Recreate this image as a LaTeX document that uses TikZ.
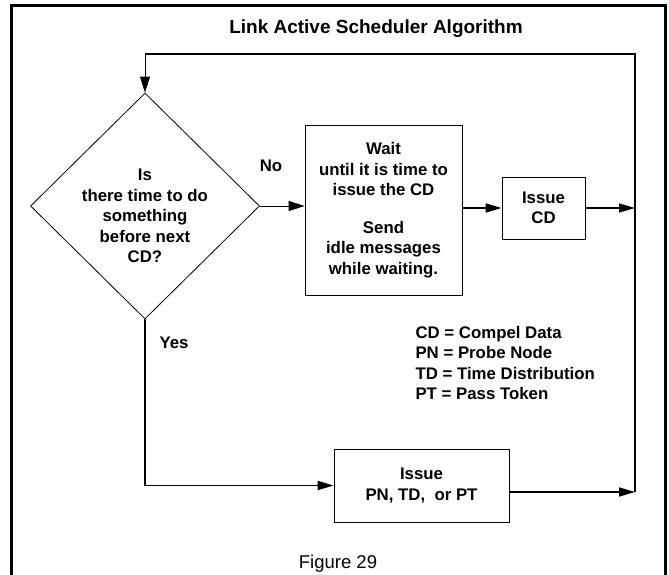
\documentclass[tikz,border=0pt]{standalone}
\usepackage{fontspec}
\setmainfont{Liberation Sans}
\usetikzlibrary{arrows.meta,shapes.geometric,calc}
\tikzset{
  txt/.style={font=\fontsize{16.8}{20.5}\selectfont\bfseries, align=center},
  block/.style={txt, draw, line width=0.8pt, inner sep=0pt},
  decide/.style={txt, draw, diamond, line width=0.8pt, inner sep=0pt},
  conn/.style={line width=1.6pt, -{Triangle[length=16pt,width=9pt]}},
  thinconn/.style={line width=1pt, -{Triangle[length=16pt,width=10pt]}}
}

\begin{document}
\begin{tikzpicture}[x=1pt,y=-1pt]
			%%%%% START %%%%%
			\useasboundingbox (0, 0) rectangle (669, 575);
			
			\draw[line width=3pt] (11.5, 5.5) rectangle (665, 600);
			
			\node[font=\fontsize{19}{22}\selectfont\bfseries] (title) at (376, 29) {Link Active Scheduler Algorithm};
			
			\node[decide, minimum width=229, minimum height=226] (q) at (145, 206) {};
			\node[txt] (qtext) at (145, 216) {Is\\there time to do\\something\\before next\\CD?};
			
			\node[block, minimum width=157, minimum height=170] (wait) at (383.5, 210)
				{Wait\\until it is time to\\issue the CD\\[17pt]Send\\idle messages\\while waiting.};
			\node[block, minimum width=83, minimum height=62] (cd) at (543.5, 208) {Issue\\CD};
			\node[block, minimum width=175, minimum height=73] (pn) at (421.5, 485.5) {Issue\\PN, TD,~ or PT};
			
			\node[txt] (no) at (271, 166) {No};
			\node[txt] (yes) at (174, 343) {Yes};
			
			\node[txt, align=left, anchor=west] (legend) at (412, 363)
				{CD = Compel Data\\PN = Probe Node\\TD = Time Distribution\\PT = Pass Token};
			
			\node[font=\fontsize{18.5}{22}\selectfont] (fig) at (338, 564) {Figure 29};
			
			\coordinate (top) at (635, 54);
			\coordinate (bot) at (635, 492);
			
			\draw[thinconn] (q.east) -- (q.east -| wait.west);
			\draw[conn] (wait.east |- cd.west) -- (cd.west);
			\draw[conn] (cd.east) -- (cd.east -| bot);
			\draw[conn] (q.south) |- (pn.west);
			\draw[conn] (pn.east |- bot) -- (bot);
			\draw[line width=2pt] (bot) -- (top) -- (q.north |- top);
			\draw[thinconn] (q.north |- top) -- (q.north);
			
			%%%%% END %%%%%
\end{tikzpicture}
\end{document}
